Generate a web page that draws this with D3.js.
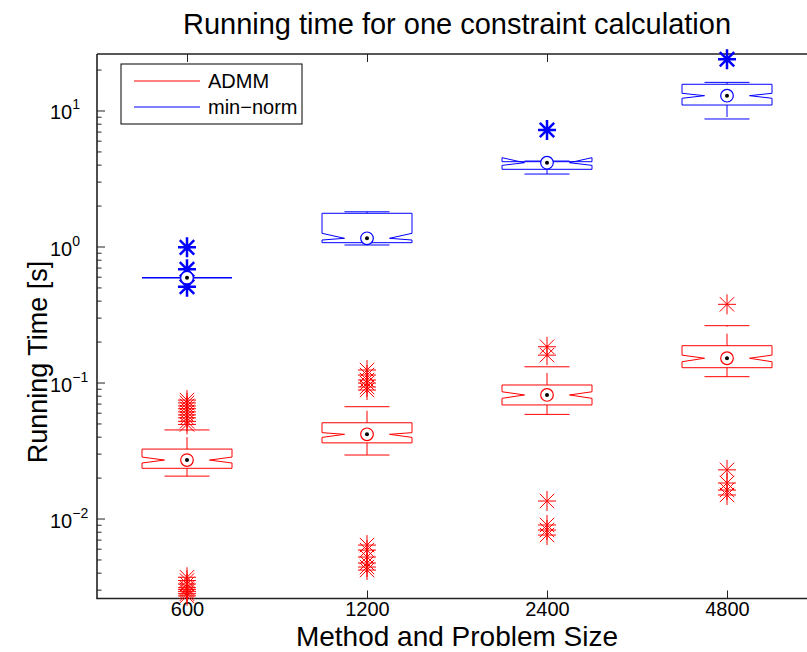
<!DOCTYPE html>
<html><head><meta charset="utf-8">
<script src="https://cdn.jsdelivr.net/npm/d3@7"></script>
<style>body{margin:0;background:#fff}svg{display:block;font-family:"Liberation Sans",Arial,sans-serif}</style>
</head><body><svg id="c" width="807" height="652"></svg>
<script>
const categories = ["600","1200","2400","4800"];
const seriesNames = ["ADMM","min-norm"];
const seriesColors = ["#ff0000","#0000ff"];
const yMajorTicks = [0.01, 0.1, 1, 10];
const yMajorLabels = ["-2","-1","0","1"];

// ADMM
const admmMedian = [0.0269, 0.0416, 0.0810, 0.1508];
const admmQ1 = [0.0234, 0.0360, 0.0684, 0.1285];
const admmQ3 = [0.0324, 0.0506, 0.0959, 0.1865];
const admmWhiskerLow = [0.0205, 0.0293, 0.0583, 0.1104];
const admmWhiskerHigh = [0.0448, 0.0664, 0.1305, 0.2618];
const admmNotchLow = [0.0256, 0.0395, 0.0765, 0.1422];
const admmNotchHigh = [0.0283, 0.0428, 0.0855, 0.159];
const admmOutliers = [
  [0.0743,0.0708,0.0673,0.0642,0.0608,0.0578,0.0550,0.0518,0.0492,0.0037,0.0035,0.0033,0.0031,0.0030,0.0029,0.0028,0.0027],
  [0.1236,0.1135,0.1043,0.0991,0.0927,0.0881,0.00638,0.00586,0.00521,0.00471,0.00440,0.00418],
  [0.1832,0.159,0.01345,0.00896,0.00823,0.00756],
  [0.3758,0.0228,0.01824,0.0162,0.0149]
];
// min-norm
const mnMedian = [0.59, 1.149, 4.13, 12.85];
const mnQ1 = [0.59, 1.067, 3.695, 10.97];
const mnQ3 = [0.59, 1.755, 4.203, 15.59];
const mnWhiskerLow = [0.59, 1.026, 3.41, 8.66];
const mnWhiskerHigh = [0.59, 1.80, 4.25, 16.1];
const mnNotchLow = [0.59, 1.116, 3.95, 12.3];
const mnNotchHigh = [0.59, 1.25, 4.5, 13.38];
const mnOutliers = [[0.986, 0.679, 0.506], [], [7.19], [23.8]];

const svg = d3.select("#c");
const L = 97, R = 817, T = 54, B = 598.5;
const x = d3.scaleLinear().domain([0.5, 4.5]).range([L, R]);
const y = d3.scaleLog().domain([Math.pow(10,-2.588), Math.pow(10,1.4154)]).range([B, T]);

// minor ticks
const minor = [];
for (let e = -3; e <= 1; e++) for (let k = 2; k <= 9; k++) { const v = k*Math.pow(10,e); if (v >= y.domain()[0] && v <= y.domain()[1]) minor.push(v); }

const axisColor = "#222";
const gMinor = svg.append("g").attr("transform",`translate(${L},0)`)
  .call(d3.axisLeft(y).tickValues(minor).tickSize(-4.5).tickFormat(""));
const gMajor = svg.append("g").attr("transform",`translate(${L},0)`)
  .call(d3.axisLeft(y).tickValues(yMajorTicks).tickSize(-8).tickFormat(""));
[gMinor,gMajor].forEach(g=>{g.select(".domain").remove(); g.selectAll("line").attr("stroke",axisColor).attr("stroke-width",1);});

// y labels with superscripts
yMajorTicks.forEach((v,i)=>{
  const t = svg.append("text").attr("x",77).attr("y",y(v)+9).attr("text-anchor","start")
    .attr("font-size",20).attr("fill","#000");
  t.append("tspan").text("10").attr("x",50);
  t.append("tspan").text(yMajorLabels[i].replace("-","\u2212")).attr("font-size",14).attr("dy",-10);
});

// x axis
const gx = svg.append("g").attr("transform",`translate(0,${B})`)
  .call(d3.axisBottom(x).tickValues([1,2,3,4]).tickSize(-8).tickPadding(6).tickFormat(d=>categories[d-1]));
gx.select(".domain").remove();
gx.selectAll("line").attr("stroke",axisColor);
gx.selectAll("text").attr("font-size",20).attr("fill","#000").attr("font-family","Liberation Sans, Arial, sans-serif").attr("dy","0.72em").attr("y",3);
const gxt = svg.append("g").attr("transform",`translate(0,${T})`)
  .call(d3.axisTop(x).tickValues([1,2,3,4]).tickSize(-8).tickFormat(""));
gxt.select(".domain").remove();
gxt.selectAll("line").attr("stroke",axisColor);

// frame
svg.append("path").attr("d",`M${L},${T}H${R}M${L},${T}V${B}H${R}`).attr("fill","none").attr("stroke",axisColor).attr("stroke-width",1.6);

// boxes
const halfW = (x(1.25)-x(1));
const capW = halfW/2;
const notchD = halfW/2;
function star(g, cx, cy, r, color, sw){
  const d = r*0.72;
  g.append("path").attr("d",`M${cx},${cy-r}V${cy+r}M${cx-r*0.9},${cy}H${cx+r*0.9}M${cx-d},${cy-d}L${cx+d},${cy+d}M${cx-d},${cy+d}L${cx+d},${cy-d}`)
    .attr("stroke",color).attr("stroke-width",sw).attr("fill","none");
}
function drawSeries(idx, med, q1, q3, wl, wh, nl, nh, outs, starW){
  const color = seriesColors[idx];
  const g = svg.append("g");
  categories.forEach((c,i)=>{
    const cx = x(i+1), l = cx-halfW, r = cx+halfW;
    // whiskers (dashed)
    g.append("line").attr("x1",cx).attr("x2",cx).attr("y1",y(q3[i])).attr("y2",y(wh[i])).attr("stroke",color).attr("stroke-dasharray","12,7");
    g.append("line").attr("x1",cx).attr("x2",cx).attr("y1",y(q1[i])).attr("y2",y(wl[i])).attr("stroke",color).attr("stroke-dasharray","12,7");
    g.append("line").attr("x1",cx-capW).attr("x2",cx+capW).attr("y1",y(wh[i])).attr("y2",y(wh[i])).attr("stroke",color);
    g.append("line").attr("x1",cx-capW).attr("x2",cx+capW).attr("y1",y(wl[i])).attr("y2",y(wl[i])).attr("stroke",color);
    // notched box
    const p = `M${l},${y(q1[i])}L${l},${y(nl[i])}L${l+notchD},${y(med[i])}L${l},${y(nh[i])}L${l},${y(q3[i])}L${r},${y(q3[i])}L${r},${y(nh[i])}L${r-notchD},${y(med[i])}L${r},${y(nl[i])}L${r},${y(q1[i])}Z`;
    g.append("path").attr("d",p).attr("fill","none").attr("stroke",color).attr("stroke-width",1);
    // outliers
    outs[i].forEach(v=>star(g, cx, y(v), 10, color, starW));
    // median marker
    g.append("circle").attr("cx",cx).attr("cy",y(med[i])).attr("r",6.3).attr("fill","#fff").attr("stroke",color).attr("stroke-width",1.2);
    g.append("circle").attr("cx",cx).attr("cy",y(med[i])).attr("r",2).attr("fill","#000");
  });
}
drawSeries(0, admmMedian, admmQ1, admmQ3, admmWhiskerLow, admmWhiskerHigh, admmNotchLow, admmNotchHigh, admmOutliers, 1);
drawSeries(1, mnMedian, mnQ1, mnQ3, mnWhiskerLow, mnWhiskerHigh, mnNotchLow, mnNotchHigh, mnOutliers, 2.5);

// legend
const lg = svg.append("g");
lg.append("rect").attr("x",121).attr("y",64).attr("width",181).attr("height",60).attr("fill","#fff").attr("stroke","#000").attr("stroke-width",1);
seriesNames.forEach((n,i)=>{
  const yy = [81,107][i];
  lg.append("line").attr("x1",134).attr("x2",200).attr("y1",yy).attr("y2",yy).attr("stroke",seriesColors[i]).attr("stroke-width",1);
  lg.append("text").attr("x",208).attr("y",yy+7).attr("font-size",20).text(n.replace("-","\u2212"));
});

// titles
svg.append("text").attr("x",457).attr("y",34).attr("text-anchor","middle").attr("font-size",29).text("Running time for one constraint calculation");
svg.append("text").attr("x",457).attr("y",646).attr("text-anchor","middle").attr("font-size",28).text("Method and Problem Size");
svg.append("text").attr("transform","translate(47,362) rotate(-90)").attr("text-anchor","middle").attr("font-size",27).text("Running Time [s]");
</script></body></html>
